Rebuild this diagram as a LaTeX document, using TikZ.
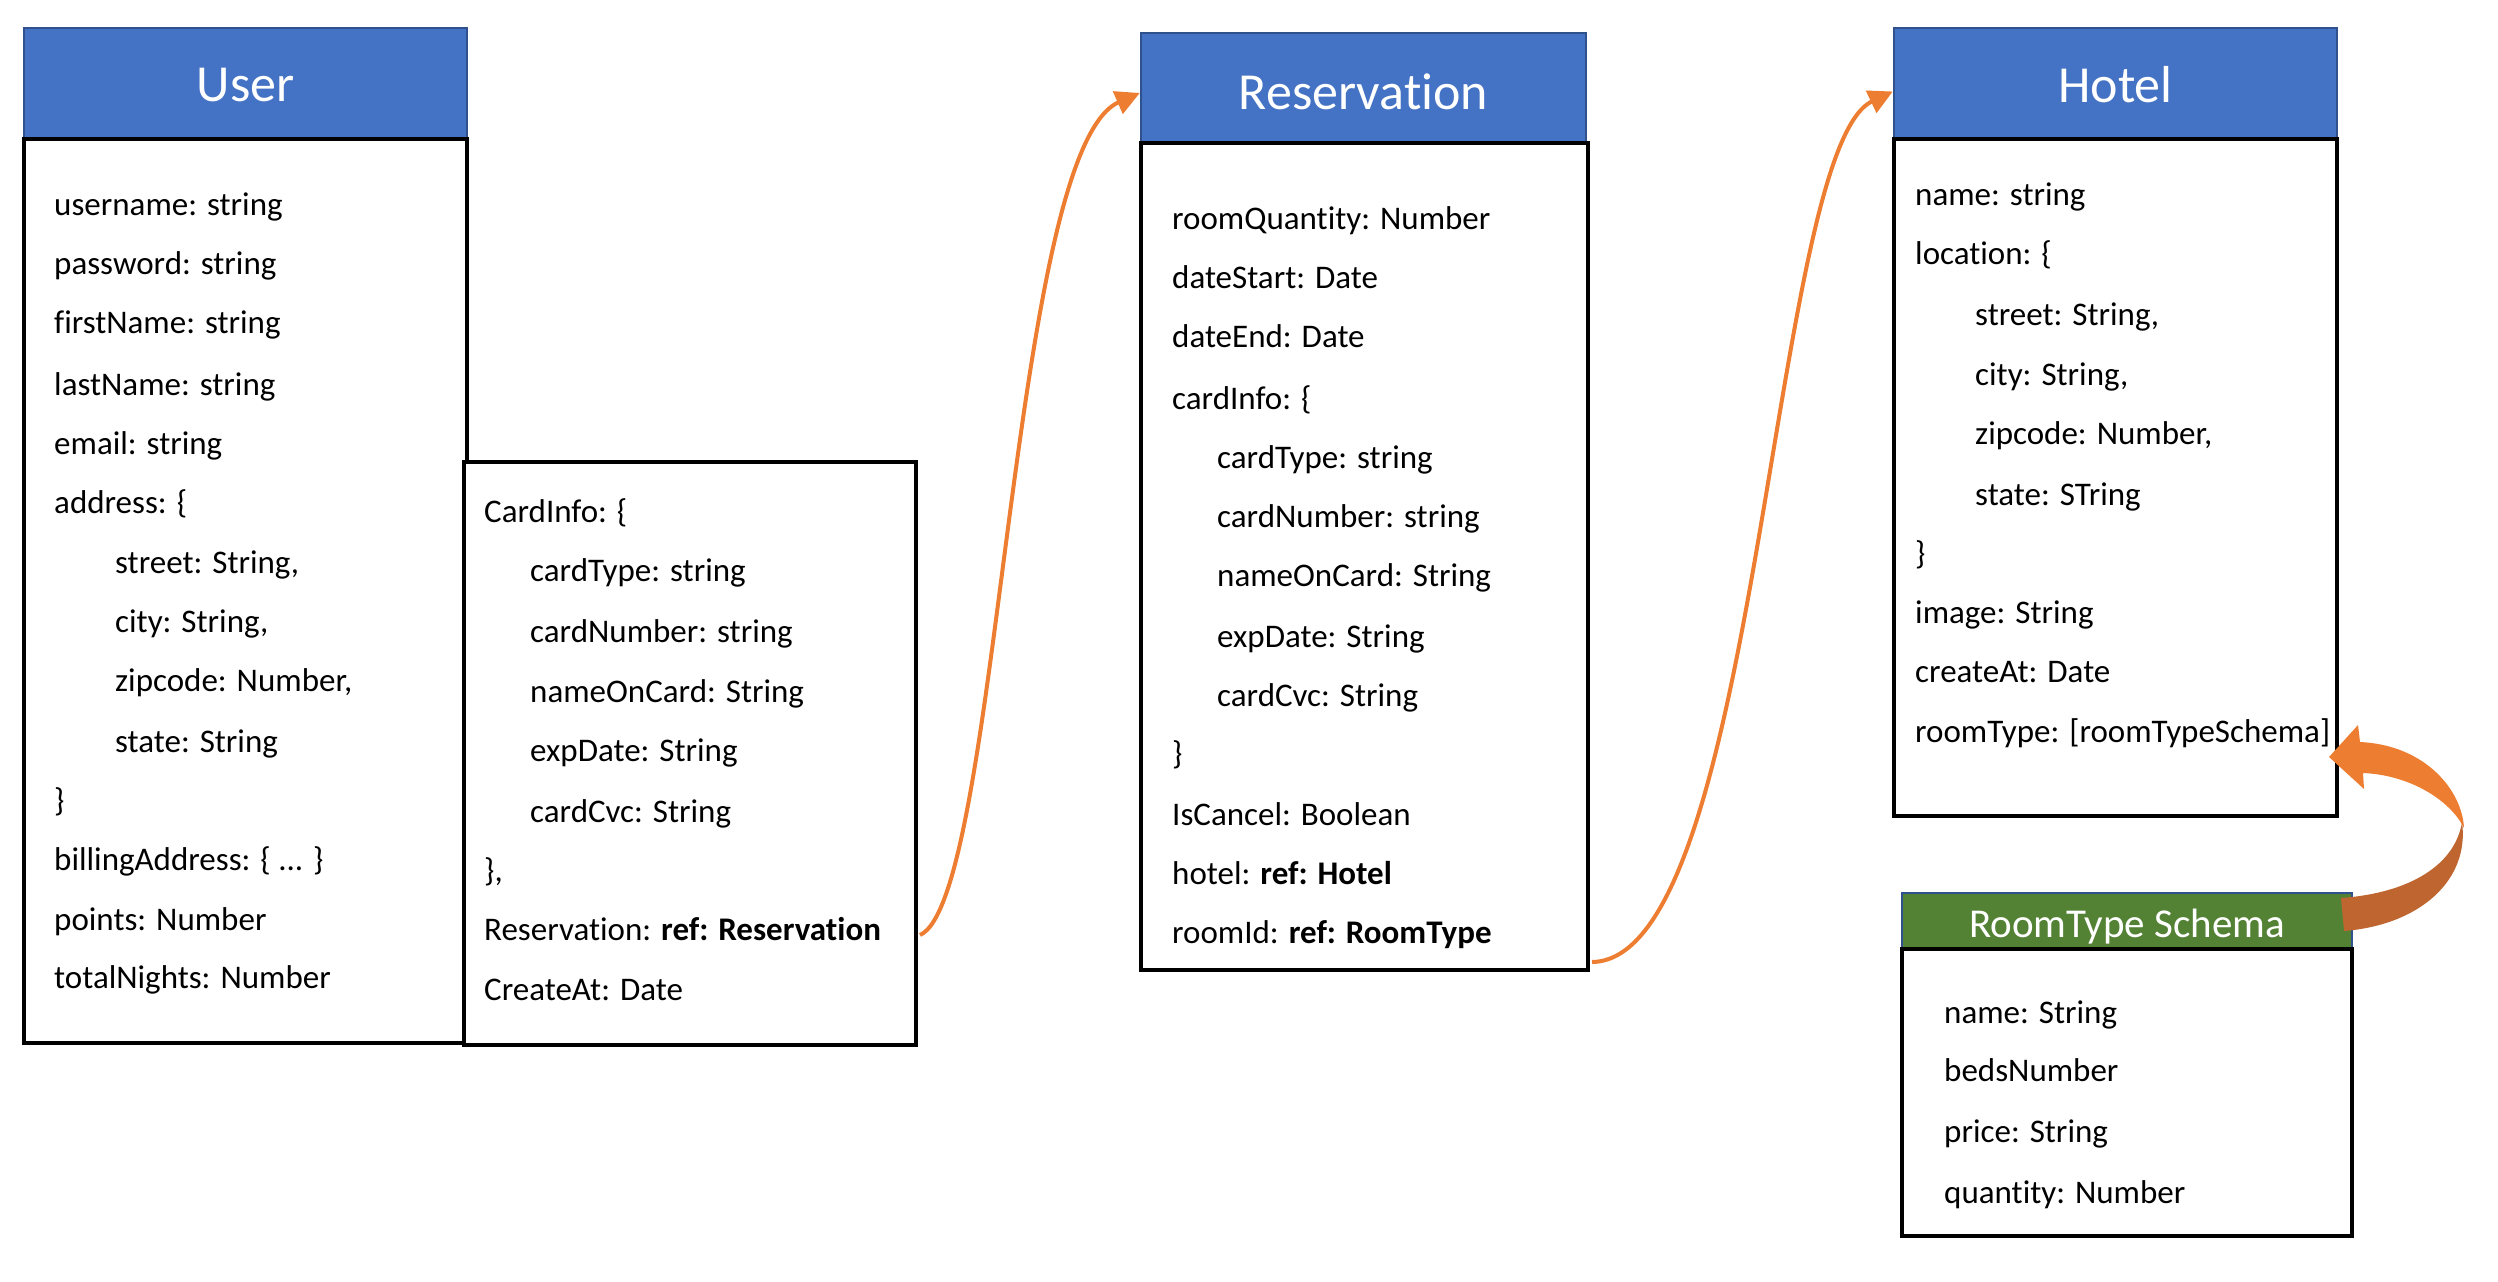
\documentclass[tikz,border=0pt]{standalone}
\usepackage{fontspec}
\setmainfont[Ligatures=NoCommon]{Carlito}
\usetikzlibrary{arrows.meta}
\definecolor{hdrblue}{HTML}{4472C4}
\definecolor{hdrborder}{HTML}{2F528F}
\definecolor{hdrgreen}{HTML}{548235}
\definecolor{conorange}{HTML}{ED7D31}
\definecolor{darkorange}{HTML}{BE6530}
\tikzset{
  hdr/.style={fill=hdrblue, draw=hdrborder, line width=2.5pt, text=white, inner sep=0pt,
    font=\fontsize{52}{60}\selectfont},
  bodybox/.style={draw=black, line width=4pt, fill=white, inner sep=0pt},
  txt/.style={anchor=west, inner sep=0pt, text height=23pt, text depth=7pt,
    font=\fontsize{33}{40}\selectfont, yshift=-3pt},
  conn/.style={draw=conorange, line width=4pt, -{Triangle[length=24pt,width=24pt]}},
}
\begin{document}
\begin{tikzpicture}[x=1pt,y=-1pt]
\useasboundingbox (0,0) rectangle (2498,1282);

% ---------------- User ----------------
\node[hdr, minimum width=443pt, minimum height=111pt] (userHead) at (245.5,83.5) {};
\node[text=white, font=\fontsize{52}{60}\selectfont] (userTitle) at (245.5,85.5) {User};
\node[bodybox, minimum width=443pt, minimum height=904pt] (userBody) at (245.5,591) {};
\node[txt] (u1) at (54,204) {username: string};
\node[txt] (u2) at (54,263) {password: string};
\node[txt] (u3) at (54,322) {firstName: string};
\node[txt] (u4) at (54,384) {lastName: string};
\node[txt] (u5) at (54,443) {email: string};
\node[txt] (u6) at (54,502) {address: \{};
\node[txt] (u7) at (115,562) {street: String,};
\node[txt] (u8) at (115,621) {city: String,};
\node[txt] (u9) at (115,680) {zipcode: Number,};
\node[txt] (u10) at (115,741) {state: String};
\node[txt] (u11) at (54,800) {\}};
\node[txt] (u12) at (54,859) {billingAddress: \{ ... \}};
\node[txt] (u13) at (54,919) {points: Number};
\node[txt] (u14) at (54,977) {totalNights: Number};

% ---------------- Card info ----------------
\node[bodybox, minimum width=452pt, minimum height=583pt] (cardBody) at (690,753.5) {};
\node[txt] (c1) at (484,511) {CardInfo: \{};
\node[txt] (c2) at (530,570) {cardType: string};
\node[txt] (c3) at (530,631) {cardNumber: string};
\node[txt] (c4) at (530,691) {nameOnCard: String};
\node[txt] (c5) at (530,750) {expDate: String};
\node[txt] (c6) at (530,811) {cardCvc: String};
\node[txt] (c7) at (484,870) {\},};
\node[txt] (c8) at (484,929) {Reservation: \textbf{ref: Reservation}};
\node[txt] (c9) at (484,989) {CreateAt: Date};

% ---------------- Reservation ----------------
\node[hdr, minimum width=445pt, minimum height=110pt] (resHead) at (1363.5,88) {};
\node[text=white, font=\fontsize{52}{60}\selectfont] (resTitle) at (1363.5,92) {Reservation};
\node[bodybox, minimum width=447pt, minimum height=827pt] (resBody) at (1364.5,556.5) {};
\node[txt] (r1) at (1172,218) {roomQuantity: Number};
\node[txt] (r2) at (1172,277) {dateStart: Date};
\node[txt] (r3) at (1172,336) {dateEnd: Date};
\node[txt] (r4) at (1172,398) {cardInfo: \{};
\node[txt] (r5) at (1217,457) {cardType: string};
\node[txt] (r6) at (1217,516) {cardNumber: string};
\node[txt] (r7) at (1217,575) {nameOnCard: String};
\node[txt] (r8) at (1217,636) {expDate: String};
\node[txt] (r9) at (1217,695) {cardCvc: String};
\node[txt] (r10) at (1172,753) {\}};
\node[txt] (r11) at (1172,814) {IsCancel: Boolean};
\node[txt] (r12) at (1172,873) {hotel: \textbf{ref: Hotel}};
\node[txt] (r13) at (1172,932) {roomId: \textbf{ref: RoomType}};

% ---------------- Hotel ----------------
\node[hdr, minimum width=443pt, minimum height=111pt] (hotelHead) at (2115.5,83.5) {};
\node[text=white, font=\fontsize{52}{60}\selectfont] (hotelTitle) at (2115.5,85) {Hotel};
\node[bodybox, minimum width=443pt, minimum height=677pt] (hotelBody) at (2115.5,477.5) {};
\node[txt] (h1) at (1915,194) {name: string};
\node[txt] (h2) at (1915,253) {location: \{};
\node[txt] (h3) at (1975,314) {street: String,};
\node[txt] (h4) at (1975,374) {city: String,};
\node[txt] (h5) at (1975,433) {zipcode: Number,};
\node[txt] (h6) at (1975,494) {state: STring};
\node[txt] (h7) at (1915,553) {\}};
\node[txt] (h8) at (1915,612) {image: String};
\node[txt] (h9) at (1915,671) {createAt: Date};
\node[txt] (h10) at (1915,731) {roomType: [roomTypeSchema]};

% ---------------- RoomType Schema ----------------
\node[hdr, fill=hdrgreen, minimum width=450pt, minimum height=56pt] (rtHead) at (2127,921) {};
\node[text=white, font=\fontsize{41}{48}\selectfont] (rtTitle) at (2127,927) {RoomType Schema};
\node[bodybox, minimum width=450pt, minimum height=287pt] (rtBody) at (2127,1092.5) {};
\node[txt] (t1) at (1944,1012) {name: String};
\node[txt] (t2) at (1944,1070) {bedsNumber};
\node[txt] (t3) at (1944,1131) {price: String};
\node[txt] (t4) at (1944,1192) {quantity: Number};

% ---------------- connectors ----------------
\coordinate (a1s) at ([xshift=2pt,yshift=-3pt]c8.center -| cardBody.east);
\coordinate (a1e) at ([yshift=-5pt]resHead.west);
\draw[conn] (a1s) .. controls (1000,900) and (1010,150) .. (a1e);

\coordinate (a2s) at ([xshift=2pt,yshift=10pt]resBody.south east);
\coordinate (a2e) at ([yshift=-8pt]hotelHead.west);
\draw[conn] (a2s) .. controls (1760,960) and (1770,150) .. (a2e);

% block curved arrow RoomType -> Hotel
\fill[conorange] (2329,757) -- (2358,725) -- (2360,742)
  .. controls (2425,745) and (2462,790) .. (2464,828)
  .. controls (2450,800) and (2410,775) .. (2363,773)
  -- (2364,789) -- cycle;
\fill[darkorange] (2462,822) .. controls (2470,880) and (2420,925) .. (2344,931)
  -- (2341,898)
  .. controls (2410,893) and (2455,865) .. (2462,822) -- cycle;
\end{tikzpicture}
\end{document}
